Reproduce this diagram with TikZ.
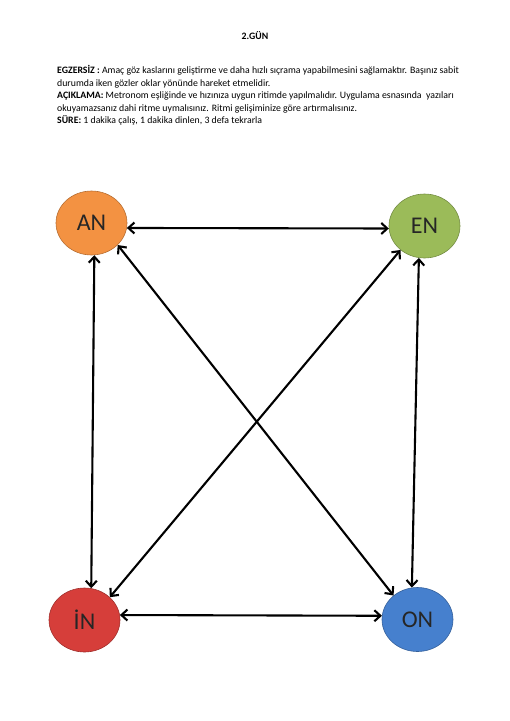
\documentclass[tikz,border=0pt]{standalone}
\usepackage{fontspec}
\setmainfont{Carlito}
\usetikzlibrary{shapes.geometric, arrows.meta}
\definecolor{anOrange}{RGB}{243,146,66}
\definecolor{enGreen}{RGB}{155,187,89}
\definecolor{inRed}{RGB}{214,62,58}
\definecolor{onBlue}{RGB}{70,128,206}

\begin{document}
\begin{tikzpicture}[x=1pt, y=-1pt,
      station/.style={ellipse, draw=#1!75!black, fill=#1, line width=0.6pt,
                      minimum width=71pt, minimum height=64pt, inner sep=0pt,
                      font=\fontsize{24}{24}\selectfont, text=black!85},
      link/.style={{Straight Barb[length=6pt,width=11pt]}-{Straight Barb[length=6pt,width=11pt]},
                   line width=2.1pt, black}]
      \useasboundingbox (0,0) rectangle (510,721);
      % header
      \node[font=\bfseries\fontsize{9.8}{12}\selectfont] (title) at (255,36) {2.GÜN};
      \node[anchor=north west, inner sep=0pt, align=left,
            font=\fontsize{9.8}{12.6}\selectfont] (task) at (57,65)
        {\textbf{EGZERSİZ :} Amaç göz kaslarını geliştirme ve daha hızlı sıçrama yapabilmesini sağlamaktır. Başınız sabit\\
         durumda iken gözler oklar yönünde hareket etmelidir.\\
         \textbf{AÇIKLAMA:} Metronom eşliğinde ve hızınıza uygun ritimde yapılmalıdır. Uygulama esnasında\ \ yazıları\\
         okuyamazsanız dahi ritme uymalısınız. Ritmi gelişiminize göre artırmalısınız.\\
         \textbf{SÜRE:} 1 dakika çalış, 1 dakika dinlen, 3 defa tekrarla};
      % stations
      \node[station=anOrange] (an) at (91.5,223) {AN};
      \node[station=enGreen] (en) at (424.5,226) {EN};
      \node[station=inRed] (in) at (84.5,620) {İN};
      \node[station=onBlue] (on) at (417.5,619.5) {ON};
      % arrows
      \draw[link] (an.-8) -- (en.184);
      \draw[link] (in.8) -- (on.174);
      \draw[link] (an.-85) -- (in.78);
      \draw[link] (en.-100) -- (on.100);
      \draw[link] (an.-40) -- (on.135);
      \draw[link] (en.-135) -- (in.42);
    \end{tikzpicture}
\end{document}
